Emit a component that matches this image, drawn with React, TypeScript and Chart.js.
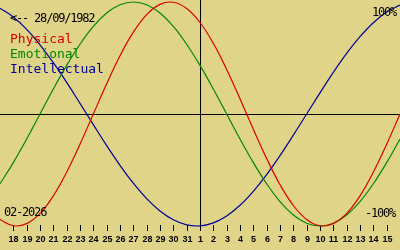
import React, { useEffect, useRef } from "react";
import { Chart, registerables } from "chart.js";

Chart.register(...registerables);

// Days from 17 Jan 2026 to 16 Feb 2026 (edges of the plot)
const dayLabels = [
  "17", "18", "19", "20", "21", "22", "23", "24", "25", "26", "27", "28", "29", "30", "31",
  "1", "2", "3", "4", "5", "6", "7", "8", "9", "10", "11", "12", "13", "14", "15", "16",
];
const physical = [
  -0.942, -0.998, -0.979, -0.888, -0.731, -0.52, -0.27, 0, 0.27, 0.52, 0.731, 0.888, 0.979, 0.998, 0.942,
  0.817, 0.631, 0.398, 0.136, -0.136, -0.398, -0.631, -0.817, -0.942, -0.998, -0.979, -0.888, -0.731, -0.52, -0.27, 0,
];
const emotional = [
  -0.623, -0.434, -0.223, 0, 0.223, 0.434, 0.623, 0.782, 0.901, 0.975, 1, 0.975, 0.901, 0.782, 0.623,
  0.434, 0.223, 0, -0.223, -0.434, -0.623, -0.782, -0.901, -0.975, -1, -0.975, -0.901, -0.782, -0.623, -0.434, -0.223,
];
const intellectual = [
  0.945, 0.866, 0.756, 0.618, 0.458, 0.282, 0.095, -0.095, -0.282, -0.458, -0.618, -0.756, -0.866, -0.945, -0.99,
  -0.999, -0.972, -0.91, -0.815, -0.69, -0.541, -0.372, -0.189, 0, 0.189, 0.372, 0.541, 0.69, 0.815, 0.91, 0.972,
];
const seriesNames = ["Physical", "Emotional", "Intellectual"];
const birthText = "<-- 28/09/1982";
const monthText = "02-2026";
const topText = "100%";
const bottomText = "-100%";
const todayIndex = 15;

const BG = "#E0D488";
const RED = "#DD0000";
const GREEN = "#008800";
const BLUE = "#000099";

const overlay = {
  id: "biorhythmOverlay",
  beforeDraw(chart: any) {
    const ctx = chart.ctx;
    ctx.save();
    ctx.fillStyle = BG;
    ctx.fillRect(0, 0, chart.width, chart.height);
    const x = chart.scales.x;
    const y = chart.scales.y;
    const y0 = Math.round(y.getPixelForValue(0)) + 0.5;
    ctx.strokeStyle = "#000";
    ctx.lineWidth = 1;
    ctx.beginPath();
    ctx.moveTo(0, y0);
    ctx.lineTo(chart.width, y0);
    ctx.stroke();
    const xt = Math.round(x.getPixelForValue(todayIndex)) + 0.5;
    ctx.beginPath();
    ctx.moveTo(xt, 0);
    ctx.lineTo(xt, 231);
    ctx.stroke();
    // ticks & labels
    ctx.font = "bold 9px 'Liberation Sans'";
    ctx.fillStyle = "#000";
    ctx.textAlign = "center";
    ctx.textBaseline = "alphabetic";
    for (let i = 1; i < dayLabels.length - 1; i++) {
      const px = Math.round(x.getPixelForValue(i)) + 0.5;
      ctx.beginPath();
      ctx.moveTo(px, 225);
      ctx.lineTo(px, 231);
      ctx.stroke();
      ctx.fillText(dayLabels[i], px, 242);
    }
    ctx.restore();
  },
  afterDraw(chart: any) {
    const ctx = chart.ctx;
    ctx.save();
    ctx.textBaseline = "alphabetic";
    ctx.fillStyle = "#000";
    ctx.font = "12px 'DejaVu Sans Mono'";
    (ctx as any).letterSpacing = "-1.2px";
    ctx.textAlign = "left";
    ctx.fillText(birthText, 10, 22);
    ctx.fillText(monthText, 4, 216);
    ctx.textAlign = "right";
    ctx.fillText(topText, 396, 16);
    ctx.fillText(bottomText, 395, 217);
    ctx.font = "13px 'DejaVu Sans Mono'";
    (ctx as any).letterSpacing = "0px";
    ctx.textAlign = "left";
    const cols = [RED, GREEN, BLUE];
    seriesNames.forEach((n, i) => {
      ctx.fillStyle = cols[i];
      ctx.fillText(n, 10, 43 + i * 15);
    });
    ctx.restore();
  },
};

export default function App() {
  const ref = useRef<HTMLCanvasElement>(null);
  useEffect(() => {
    if (!ref.current) return;
    const mk = (label: string, data: number[], color: string) => ({
      label,
      data,
      borderColor: color,
      backgroundColor: color,
      borderWidth: 1.2,
      pointRadius: 0,
      tension: 0.4,
      fill: false,
    });
    const chart = new Chart(ref.current, {
      type: "line",
      data: {
        labels: dayLabels,
        datasets: [
          mk(seriesNames[0], physical, RED),
          mk(seriesNames[1], emotional, GREEN),
          mk(seriesNames[2], intellectual, BLUE),
        ],
      },
      options: {
        responsive: false,
        animation: false,
        devicePixelRatio: 1,
        layout: { padding: 0 },
        plugins: { legend: { display: false }, tooltip: { enabled: false } },
        scales: {
          x: { type: "category", display: false, offset: false },
          y: { display: false, min: -136 / 112, max: 114 / 112 },
        },
      },
      plugins: [overlay],
    });
    return () => chart.destroy();
  }, []);
  return (
    <div style={{ position: "fixed", left: 0, top: 0, width: 400, height: 250 }}>
      <canvas ref={ref} width={400} height={250} style={{ display: "block", width: 400, height: 250 }} />
    </div>
  );
}
